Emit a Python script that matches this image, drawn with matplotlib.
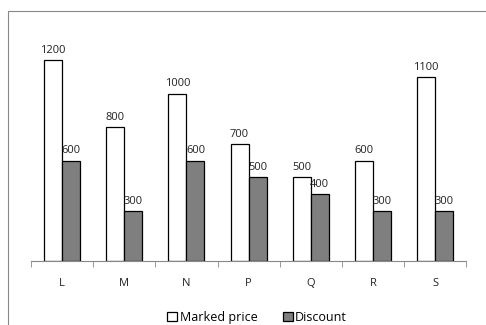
import numpy as np
import matplotlib.pyplot as plt
from matplotlib.patches import Rectangle

categories = ["L", "M", "N", "P", "Q", "R", "S"]
marked_price = [1200, 800, 1000, 700, 500, 600, 1100]
discount = [600, 300, 600, 500, 400, 300, 300]

plt.rcParams["font.family"] = ["Open Sans", "DejaVu Sans"]

fig = plt.figure(figsize=(4.86, 3.25), dpi=100)
ax = fig.add_axes([0.064, 0.197, 0.895, 0.721])

x = np.arange(len(categories))
w = 0.29
b1 = ax.bar(x - w / 2, marked_price, w, color="white", edgecolor="black", linewidth=0.9, label="Marked price")
b2 = ax.bar(x + w / 2, discount, w, color="#7f7f7f", edgecolor="black", linewidth=0.9, label="Discount")

for bars in (b1, b2):
    for r in bars:
        ax.text(r.get_x() + r.get_width() / 2, r.get_height() + 25, f"{int(r.get_height())}",
                ha="center", va="bottom", fontsize=8, color="#222222")

ax.set_xlim(-0.5, len(categories) - 0.5)
ax.set_ylim(0, 1400)
ax.set_yticks([])
for s in ["top", "right", "left"]:
    ax.spines[s].set_visible(False)
ax.spines["bottom"].set_color("#888888")
ax.set_xticks(x)
ax.set_xticklabels(categories, fontsize=8, color="#222222")
ax.tick_params(axis="x", length=0, pad=12)
ax.set_xticks(np.arange(-0.5, len(categories)), minor=True)
ax.tick_params(axis="x", which="minor", length=4, color="#888888")

ax.legend(loc="upper center", bbox_to_anchor=(0.52, -0.165), ncol=2, frameon=False,
          fontsize=9, handlelength=0.8, handleheight=0.8, handletextpad=0.2, columnspacing=2.0)

fig.patches.append(Rectangle((8 / 486, -0.1), 1.1, 1.1 - 11 / 325, transform=fig.transFigure,
                             fill=False, edgecolor="#888888", linewidth=0.8))

fig.savefig("out.png", dpi=100)
